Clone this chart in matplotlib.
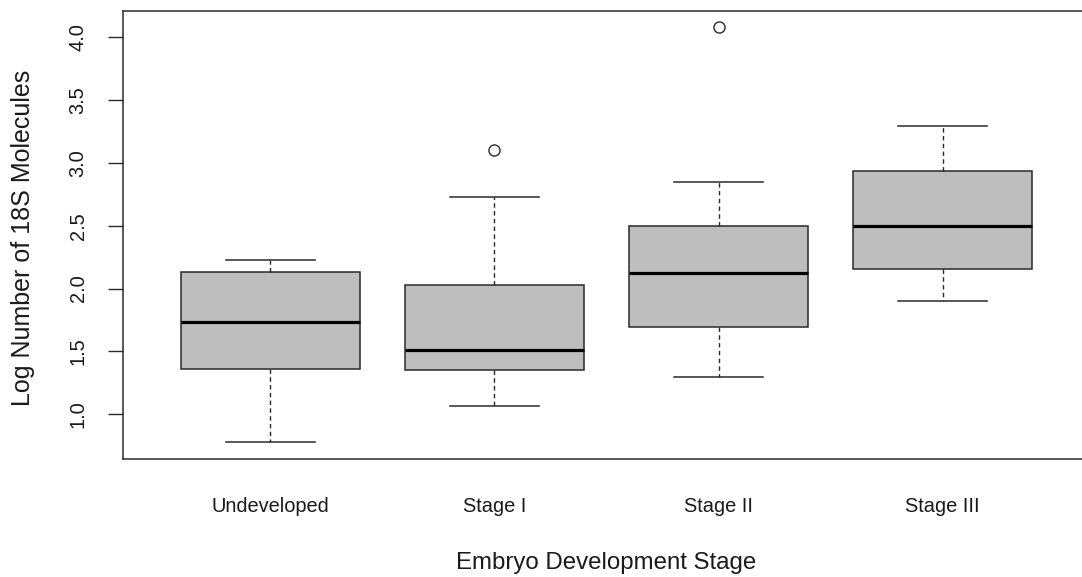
import matplotlib
matplotlib.use("Agg")
import matplotlib.pyplot as plt

# Log number of 18S molecules by embryo development stage (box summaries)
stages = ["Undeveloped", "Stage I", "Stage II", "Stage III"]
whisker_low = [0.775, 1.066, 1.297, 1.901]
quartile_1 = [1.358, 1.350, 1.692, 2.156]
medians = [1.732, 1.509, 2.124, 2.496]
quartile_3 = [2.132, 2.026, 2.496, 2.939]
whisker_high = [2.225, 2.729, 2.848, 3.291]
outliers = [[], [3.106], [4.081], []]
y_ticks = [1.0, 1.5, 2.0, 2.5, 3.0, 3.5, 4.0]

font = ["Liberation Sans", "DejaVu Sans"]

W, H, DPI = 1082, 577, 100
fig = plt.figure(figsize=(W / DPI, H / DPI), dpi=DPI)
fig.patch.set_facecolor("white")

# plot region (the right edge of the frame runs just past the canvas)
left_px, right_px, top_px, bottom_px = 122.5, 1090.5, 10.5, 459.0
ax = fig.add_axes([left_px / W, 1 - bottom_px / H,
                   (right_px - left_px) / W, (bottom_px - top_px) / H])

stats = []
for i, name in enumerate(stages):
    stats.append(dict(label=name, whislo=whisker_low[i], q1=quartile_1[i],
                      med=medians[i], q3=quartile_3[i], whishi=whisker_high[i],
                      fliers=outliers[i]))

edge = "#2a2a2a"
ax.bxp(stats, positions=range(1, len(stages) + 1), widths=0.8, capwidths=0.4,
       patch_artist=True, showfliers=True,
       boxprops=dict(facecolor="#bebebe", edgecolor=edge, linewidth=1.1),
       medianprops=dict(color="black", linewidth=2.3, solid_capstyle="butt"),
       whiskerprops=dict(color=edge, linewidth=1.0, linestyle=(0, (3.2, 2.4))),
       capprops=dict(color=edge, linewidth=1.1),
       flierprops=dict(marker="o", markerfacecolor="none", markeredgecolor=edge,
                       markersize=8, markeredgewidth=1.0))

# R-style 4% padding around the data range
n = len(stages)
ax.set_xlim(0.5 - 0.04 * n, n + 0.5 + 0.04 * n)
lo = min(whisker_low)
hi = max(max(o) if o else v for o, v in zip(outliers, whisker_high))
pad = 0.04 * (hi - lo)
ax.set_ylim(lo - pad, hi + pad)

ax.set_yticks(y_ticks)
ax.set_yticklabels([f"{v:.1f}" for v in y_ticks], rotation=90, va="center",
                   fontfamily=font, fontsize=14.4, color="#1a1a1a")
ax.tick_params(axis="y", length=10.8, width=1.0, color=edge, pad=14.2)

ax.set_xticks(range(1, n + 1))
ax.set_xticklabels(stages, fontfamily=font, fontsize=14.4, color="#1a1a1a")
for t in ax.get_xticklabels():
    t.set_va("baseline")
ax.tick_params(axis="x", length=0, pad=38.2)

for s in ax.spines.values():
    s.set_linewidth(1.1)
    s.set_color(edge)

fig.text(0.5 * (left_px + right_px) / W, 1 - 569 / H, "Embryo Development Stage",
         ha="center", va="baseline", fontfamily=font, fontsize=17.3, color="#1a1a1a")
fig.text(23 / W, 1 - 238 / H, "Log Number of 18S Molecules", rotation=90,
         ha="center", va="center", fontfamily=font, fontsize=18, color="#1a1a1a")

fig.savefig("out.png", dpi=DPI, facecolor="white")
